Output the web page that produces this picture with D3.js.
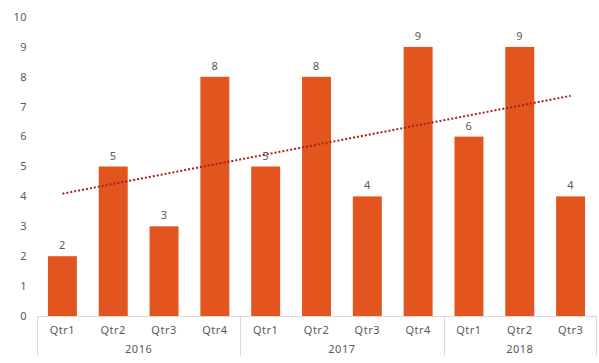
<!DOCTYPE html>
<html>
<head>
<meta charset="utf-8">
<script src="https://cdn.jsdelivr.net/npm/d3@7"></script>
<style>
  body { margin: 0; background: #fff; }
  text { font-family: "Noto Sans", "DejaVu Sans", sans-serif; fill: #595959; letter-spacing: 0.5px; }
</style>
</head>
<body>
<div id="chart"></div>
<script>
let years = ["2016", "2017", "2018"];
let quarters = ["Qtr1", "Qtr2", "Qtr3", "Qtr4", "Qtr1", "Qtr2", "Qtr3", "Qtr4", "Qtr1", "Qtr2", "Qtr3"];
let yearOf = ["2016", "2016", "2016", "2016", "2017", "2017", "2017", "2017", "2018", "2018", "2018"];
let values = [2, 5, 3, 8, 5, 8, 4, 9, 6, 9, 4];
let yTicks = [0, 1, 2, 3, 4, 5, 6, 7, 8, 9, 10];

let width = 599;
let height = 363;
let plotLeft = 37;
let plotRight = 596;
let plotTop = 17;
let plotBottom = 316;
let barColor = "#E3551F";

let svg = d3.select("#chart")
  .append("svg")
  .attr("width", width)
  .attr("height", height);

let idx = values.map(function (d, i) { return i; });

let x = d3.scaleBand()
  .domain(idx)
  .range([plotLeft, plotRight])
  .paddingInner(0.43)
  .paddingOuter(0.215);

let y = d3.scaleLinear()
  .domain([0, 10])
  .range([plotBottom, plotTop]);

// y tick labels
svg.selectAll(".ytick")
  .data(yTicks)
  .enter()
  .append("text")
  .attr("x", 27)
  .attr("y", function (d) { return y(d); })
  .attr("dy", "0.35em")
  .attr("text-anchor", "end")
  .style("font-size", "11px")
  .text(function (d) { return d; });

// bars
svg.selectAll(".bar")
  .data(values)
  .enter()
  .append("rect")
  .attr("x", function (d, i) { return x(i); })
  .attr("y", function (d) { return y(d); })
  .attr("width", x.bandwidth())
  .attr("height", function (d) { return plotBottom - y(d); })
  .attr("fill", barColor);

// value labels
svg.selectAll(".val")
  .data(values)
  .enter()
  .append("text")
  .attr("x", function (d, i) { return x(i) + x.bandwidth() / 2; })
  .attr("y", function (d) { return y(d) - 7; })
  .attr("text-anchor", "middle")
  .style("font-size", "11px")
  .text(function (d) { return d; });

// axis line
svg.append("line")
  .attr("x1", plotLeft)
  .attr("x2", plotRight)
  .attr("y1", plotBottom + 0.5)
  .attr("y2", plotBottom + 0.5)
  .attr("stroke", "#d9d9d9");

// quarter labels
svg.selectAll(".qtr")
  .data(quarters)
  .enter()
  .append("text")
  .attr("x", function (d, i) { return x(i) + x.bandwidth() / 2; })
  .attr("y", 334)
  .attr("text-anchor", "middle")
  .style("font-size", "11px")
  .text(function (d) { return d; });

// year groups: boundaries halfway between neighbouring bars
let step = x.step();
let groups = years.map(function (yr) {
  let members = idx.filter(function (i) { return yearOf[i] === yr; });
  let first = members[0];
  let last = members[members.length - 1];
  let x0 = first === 0 ? plotLeft : x(first) - (step - x.bandwidth()) / 2;
  let x1 = last === values.length - 1 ? plotRight : x(last) + x.bandwidth() + (step - x.bandwidth()) / 2;
  return { year: yr, x0: x0, x1: x1 };
});

let seps = [groups[0].x0].concat(groups.map(function (g) { return g.x1; }));
svg.selectAll(".sep")
  .data(seps)
  .enter()
  .append("line")
  .attr("x1", function (d) { return Math.round(d) + 0.5; })
  .attr("x2", function (d) { return Math.round(d) + 0.5; })
  .attr("y1", plotBottom)
  .attr("y2", 356)
  .attr("stroke", "#d9d9d9");

svg.selectAll(".year")
  .data(groups)
  .enter()
  .append("text")
  .attr("x", function (d) { return (d.x0 + d.x1) / 2; })
  .attr("y", 353)
  .attr("text-anchor", "middle")
  .style("font-size", "11px")
  .text(function (d) { return d.year; });

// linear trendline (least squares over the bar values)
let n = values.length;
let mx = d3.mean(idx);
let my = d3.mean(values);
let slope = d3.sum(idx, function (i) { return (i - mx) * (values[i] - my); }) /
  d3.sum(idx, function (i) { return (i - mx) * (i - mx); });
let trend = [0, n - 1].map(function (i) { return [i, my + slope * (i - mx)]; });

svg.append("path")
  .datum(trend)
  .attr("d", d3.line()
    .x(function (d) { return x(d[0]) + x.bandwidth() / 2; })
    .y(function (d) { return y(d[1]); }))
  .attr("fill", "none")
  .attr("stroke", "#A3201E")
  .attr("stroke-width", 2)
  .attr("stroke-dasharray", "2,2");
</script>
</body>
</html>
